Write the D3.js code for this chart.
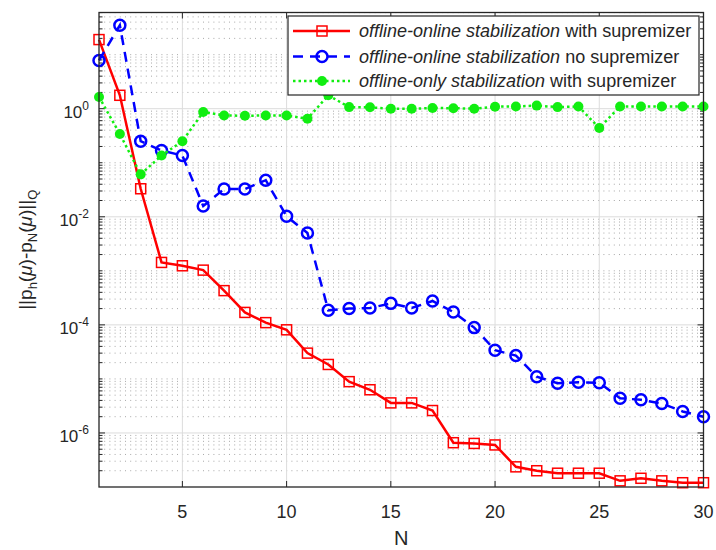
<!DOCTYPE html>
<html>
<head>
<meta charset="utf-8">
<script src="https://cdn.jsdelivr.net/npm/d3@7"></script>
<style>
  body { margin: 0; background: #fff; }
  svg { font-family: "Liberation Sans", Arial, Helvetica, sans-serif; }
</style>
</head>
<body>
<div id="graph"></div>
<script>
// x values (number of basis functions N)
const nValues = d3.range(1, 31);

// error values
const offOnSup = [19, 1.77, 0.033, 1.43e-3, 1.24e-3, 1.03e-3, 4.3e-4, 1.7e-4, 1.1e-4, 8.1e-5,
                  3.0e-5, 1.85e-5, 8.9e-6, 6.3e-6, 3.6e-6, 3.6e-6, 2.6e-6, 6.6e-7, 6.4e-7, 6.0e-7,
                  2.36e-7, 2.0e-7, 1.8e-7, 1.8e-7, 1.8e-7, 1.3e-7, 1.45e-7, 1.3e-7, 1.2e-7, 1.2e-7];
const offOnNoSup = [7.8, 35, 0.25, 0.168, 0.136, 0.0158, 0.0327, 0.0327, 0.0475, 0.0102,
                    5.0e-3, 1.86e-4, 2.0e-4, 2.05e-4, 2.5e-4, 2.05e-4, 2.77e-4, 1.73e-4, 8.9e-5, 3.4e-5,
                    2.7e-5, 1.1e-5, 8.3e-6, 8.7e-6, 8.5e-6, 4.4e-6, 4.1e-6, 3.5e-6, 2.5e-6, 2.0e-6];
const offOnlySup = [1.65, 0.34, 0.061, 0.136, 0.25, 0.87, 0.75, 0.74, 0.75, 0.75,
                    0.65, 1.77, 1.07, 1.06, 1.0, 1.0, 1.03, 1.02, 1.0, 1.09,
                    1.1, 1.14, 1.07, 1.1, 0.44, 1.1, 1.1, 1.1, 1.1, 1.1];

// tick labels
const xTicks = [5, 10, 15, 20, 25, 30];
const yTickExps = [0, -2, -4, -6];

// legend labels: italic part + normal part
const legendItalic = ["offline-online stabilization", "offline-online stabilization", "offline-only stabilization"];
const legendPlain = [" with supremizer", " no supremizer", " with supremizer"];

// Graph constants
const w = 716;
const h = 550;
const pLeft = 99, pRight = 703.5, pTop = 12.5, pBottom = 487;
const axisColor = "#262626";

const svg = d3.select("#graph")
              .append("svg")
              .attr("width", w)
              .attr("height", h);

const xScale = d3.scaleLinear().domain([1, 30]).range([pLeft, pRight]);
const yScale = d3.scaleLog().domain([1e-7, Math.pow(10, 1.78)]).range([pBottom, pTop]);

// minor y values (2..9 x 10^k and unlabeled decades)
const minorY = [];
for (let k = -7; k <= 1; k++) {
    for (let m = 1; m <= 9; m++) {
        const v = m * Math.pow(10, k);
        if (v <= 1e-7 || v > yScale.domain()[1]) continue;
        if (m === 1 && yTickExps.includes(k)) continue;
        minorY.push(v);
    }
}
const majorY = yTickExps.map(e => Math.pow(10, e));

// grid
const grid = svg.append("g");
grid.selectAll(".minor")
    .data(minorY)
    .enter()
    .append("line")
    .attr("x1", pLeft).attr("x2", pRight)
    .attr("y1", d => yScale(d)).attr("y2", d => yScale(d))
    .attr("stroke", "#a8a8a8")
    .attr("stroke-width", 1)
    .attr("stroke-dasharray", "1,4.2");
grid.selectAll(".majY")
    .data(majorY)
    .enter()
    .append("line")
    .attr("x1", pLeft).attr("x2", pRight)
    .attr("y1", d => yScale(d)).attr("y2", d => yScale(d))
    .attr("stroke", "#dcdcdc")
    .attr("stroke-width", 1);
grid.selectAll(".majX")
    .data(xTicks)
    .enter()
    .append("line")
    .attr("x1", d => xScale(d)).attr("x2", d => xScale(d))
    .attr("y1", pTop).attr("y2", pBottom)
    .attr("stroke", "#dcdcdc")
    .attr("stroke-width", 1);

// ticks
const ticks = svg.append("g").attr("stroke", axisColor).attr("stroke-width", 1);
xTicks.forEach(t => {
    ticks.append("line").attr("x1", xScale(t)).attr("x2", xScale(t)).attr("y1", pBottom).attr("y2", pBottom - 6);
    ticks.append("line").attr("x1", xScale(t)).attr("x2", xScale(t)).attr("y1", pTop).attr("y2", pTop + 6);
});
minorY.forEach(v => {
    ticks.append("line").attr("x1", pLeft).attr("x2", pLeft + 3.5).attr("y1", yScale(v)).attr("y2", yScale(v));
    ticks.append("line").attr("x1", pRight).attr("x2", pRight - 3.5).attr("y1", yScale(v)).attr("y2", yScale(v));
});
majorY.forEach(v => {
    ticks.append("line").attr("x1", pLeft).attr("x2", pLeft + 6).attr("y1", yScale(v)).attr("y2", yScale(v));
    ticks.append("line").attr("x1", pRight).attr("x2", pRight - 6).attr("y1", yScale(v)).attr("y2", yScale(v));
});

// lines
const line = vals => d3.line()
    .x((d, i) => xScale(nValues[i]))
    .y(d => yScale(d))(vals);

// red: offline-online with supremizer
svg.append("path")
   .attr("d", line(offOnSup))
   .attr("fill", "none")
   .attr("stroke", "#ff0000")
   .attr("stroke-width", 2.5);
svg.selectAll(".sq")
   .data(offOnSup)
   .enter()
   .append("rect")
   .attr("x", (d, i) => xScale(nValues[i]) - 5)
   .attr("y", d => yScale(d) - 5)
   .attr("width", 10)
   .attr("height", 10)
   .attr("fill", "none")
   .attr("stroke", "#ff0000")
   .attr("stroke-width", 1.5);

// blue: offline-online no supremizer
svg.append("path")
   .attr("d", line(offOnNoSup))
   .attr("fill", "none")
   .attr("stroke", "#0000ff")
   .attr("stroke-width", 2.5)
   .attr("stroke-dasharray", "10,7");
svg.selectAll(".circ")
   .data(offOnNoSup)
   .enter()
   .append("circle")
   .attr("cx", (d, i) => xScale(nValues[i]))
   .attr("cy", d => yScale(d))
   .attr("r", 5.5)
   .attr("fill", "none")
   .attr("stroke", "#0000ff")
   .attr("stroke-width", 2.5);

// green: offline-only with supremizer
svg.append("path")
   .attr("d", line(offOnlySup))
   .attr("fill", "none")
   .attr("stroke", "#11ee11")
   .attr("stroke-width", 2.5)
   .attr("stroke-dasharray", "2.5,3");
svg.selectAll(".dot")
   .data(offOnlySup)
   .enter()
   .append("circle")
   .attr("cx", (d, i) => xScale(nValues[i]))
   .attr("cy", d => yScale(d))
   .attr("r", 5)
   .attr("fill", "#11ee11");

// axes box
svg.append("rect")
   .attr("x", pLeft).attr("y", pTop)
   .attr("width", pRight - pLeft).attr("height", pBottom - pTop)
   .attr("fill", "none")
   .attr("stroke", axisColor)
   .attr("stroke-width", 1.3);

// tick labels
svg.selectAll(".xt")
   .data(xTicks)
   .enter()
   .append("text")
   .attr("x", d => xScale(d))
   .attr("y", 518)
   .attr("text-anchor", "middle")
   .attr("font-size", 18)
   .attr("fill", axisColor)
   .text(d => d);

const yt = svg.selectAll(".yt")
   .data(yTickExps)
   .enter()
   .append("text")
   .attr("x", 89)
   .attr("y", d => yScale(Math.pow(10, d)) + 9)
   .attr("text-anchor", "end")
   .attr("font-size", 17)
   .attr("fill", axisColor);
yt.append("tspan").text("10");
yt.append("tspan").attr("dy", -8).attr("font-size", 12).text(d => d);

// axis labels
svg.append("text")
   .attr("x", (pLeft + pRight) / 2)
   .attr("y", 545)
   .attr("text-anchor", "middle")
   .attr("font-size", 20)
   .attr("fill", axisColor)
   .text("N");

const yl = svg.append("text")
   .attr("transform", `translate(32,${(pTop + pBottom) / 2}) rotate(-90)`)
   .attr("text-anchor", "middle")
   .attr("font-size", 19)
   .attr("fill", axisColor);
yl.append("tspan").text("||p");
yl.append("tspan").attr("dy", 5).attr("font-size", 13).text("h");
yl.append("tspan").attr("dy", -5).text("(");
yl.append("tspan").attr("font-style", "italic").text("μ");
yl.append("tspan").text(")-p");
yl.append("tspan").attr("dy", 5).attr("font-size", 13).text("N");
yl.append("tspan").attr("dy", -5).text("(");
yl.append("tspan").attr("font-style", "italic").text("μ");
yl.append("tspan").text(")||");
yl.append("tspan").attr("dy", 5).attr("font-size", 13).text("Q");

// legend
const lg = svg.append("g");
lg.append("rect")
  .attr("x", 288).attr("y", 16)
  .attr("width", 411).attr("height", 79)
  .attr("fill", "#fff")
  .attr("stroke", axisColor)
  .attr("stroke-width", 1.2);

const legendRows = [31, 56.5, 81];
const styles = [
    {color: "#ff0000", dash: null},
    {color: "#0000ff", dash: "10,7"},
    {color: "#11ee11", dash: "2.5,3"}
];
legendRows.forEach((ly, i) => {
    lg.append("line")
      .attr("x1", 293).attr("x2", 350)
      .attr("y1", ly).attr("y2", ly)
      .attr("stroke", styles[i].color)
      .attr("stroke-width", 2.5)
      .attr("stroke-dasharray", styles[i].dash);
    if (i === 0) {
        lg.append("rect").attr("x", 317).attr("y", ly - 5).attr("width", 10).attr("height", 10)
          .attr("fill", "none").attr("stroke", "#ff0000").attr("stroke-width", 1.5);
    } else if (i === 1) {
        lg.append("circle").attr("cx", 322).attr("cy", ly).attr("r", 5.5)
          .attr("fill", "none").attr("stroke", "#0000ff").attr("stroke-width", 2.5);
    } else {
        lg.append("circle").attr("cx", 322).attr("cy", ly).attr("r", 5).attr("fill", "#11ee11");
    }
    const t = lg.append("text")
      .attr("x", 359)
      .attr("y", ly + 6)
      .attr("font-size", 18)
      .attr("fill", axisColor);
    t.append("tspan").attr("font-style", "italic").text(legendItalic[i]);
    t.append("tspan").text(legendPlain[i]);
});
</script>
</body>
</html>
